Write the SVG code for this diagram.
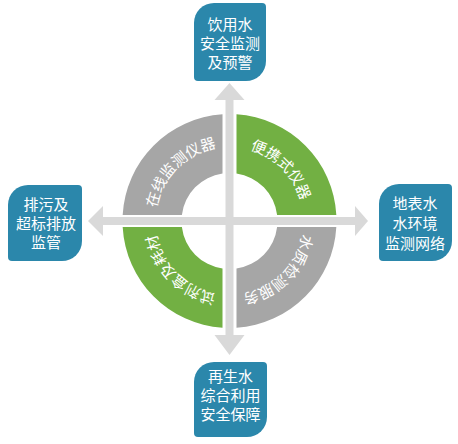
<svg xmlns="http://www.w3.org/2000/svg" width="458" height="444" viewBox="0 0 458 444">
  <style>
    .box { fill: #2b87ab; }
    .gray { fill: #a6a6a6; }
    .green { fill: #72b043; }
    .bar { fill: #d9d9d9; }
    .bt { fill: #ffffff; font-family: "Noto Sans CJK SC", "Noto Sans", sans-serif; font-size: 15px; text-anchor: middle; }
    .rt { fill: #ffffff; font-family: "Noto Sans CJK SC", "Noto Sans", sans-serif; font-size: 15px; text-anchor: middle; }
  </style>
  <defs>
    <path id="pTL" d="M155.5,221 A74 74 0 0 1 229.5,147"/>
    <path id="pTR" d="M229.5,147 A74 74 0 0 1 303.5,221"/>
    <path id="pBR" d="M303.5,221 A74 74 0 0 1 229.5,295"/>
    <path id="pBL" d="M229.5,295 A74 74 0 0 1 155.5,221"/>
  </defs>
  <rect width="458" height="444" fill="#ffffff"/>

  <g id="ring-online">
    <path class="gray" d="M222.5,114.23 A107 107 0 0 0 122.67,215 L181.88,215 A47.62 47.62 0 0 1 222.5,173.51 Z"/>
    <text class="rt"><textPath href="#pTL" startOffset="50%">在线监测仪器</textPath></text>
  </g>
  <g id="ring-portable">
    <path class="green" d="M236.5,114.23 A107 107 0 0 1 336.33,215 L277.12,215 A47.62 47.62 0 0 0 236.5,173.51 Z"/>
    <text class="rt"><textPath href="#pTR" startOffset="50%">便携式仪器</textPath></text>
  </g>
  <g id="ring-service">
    <path class="gray" d="M336.33,227 A107 107 0 0 1 236.5,327.77 L236.5,268.49 A47.62 47.62 0 0 0 277.12,227 Z"/>
    <text class="rt"><textPath href="#pBR" startOffset="50%">水质检测服务</textPath></text>
  </g>
  <g id="ring-reagent">
    <path class="green" d="M222.5,327.77 A107 107 0 0 1 122.67,227 L181.88,227 A47.62 47.62 0 0 0 222.5,268.49 Z"/>
    <text class="rt"><textPath href="#pBL" startOffset="50%">试剂盒及耗材</textPath></text>
  </g>

  <g id="connectors">
    <rect class="bar" x="225.5" y="99" width="8" height="237"/>
    <rect class="bar" x="102" y="217" width="254" height="8"/>
    <polygon class="bar" points="229.5,83 244.5,100 214.5,100"/>
    <polygon class="bar" points="214.5,335 244.5,335 229.5,355"/>
    <polygon class="bar" points="88,221 103,206 103,236"/>
    <polygon class="bar" points="368,221 355,206 355,236"/>
  </g>

  <g id="box-top">
    <path class="box" d="M214,3 H262 Q266,3 266,7 V61 A20 20 0 0 1 246,81 H198 Q194,81 194,77 V23 A20 20 0 0 1 214,3 Z"/>
    <text class="bt" x="230" y="30">饮用水</text>
    <text class="bt" x="230" y="49">安全监测</text>
    <text class="bt" x="230" y="68">及预警</text>
  </g>
  <g id="box-left">
    <path class="box" d="M28,185 H78 Q82,185 82,189 V241 A20 20 0 0 1 62,261 H12 Q8,261 8,257 V205 A20 20 0 0 1 28,185 Z"/>
    <text class="bt" x="46" y="209.5">排污及</text>
    <text class="bt" x="46" y="228.5">超标排放</text>
    <text class="bt" x="46" y="247.5">监管</text>
  </g>
  <g id="box-right">
    <path class="box" d="M399,184 H448 Q452,184 452,188 V241 A20 20 0 0 1 432,261 H383 Q379,261 379,257 V204 A20 20 0 0 1 399,184 Z"/>
    <text class="bt" x="415" y="208.5">地表水</text>
    <text class="bt" x="415" y="228.5">水环境</text>
    <text class="bt" x="415" y="248.5">监测网络</text>
  </g>
  <g id="box-bottom">
    <path class="box" d="M214,362 H263 Q267,362 267,366 V417 A20 20 0 0 1 247,437 H198 Q194,437 194,433 V382 A20 20 0 0 1 214,362 Z"/>
    <text class="bt" x="230.5" y="382">再生水</text>
    <text class="bt" x="230.5" y="401">综合利用</text>
    <text class="bt" x="230.5" y="420">安全保障</text>
  </g>
</svg>
